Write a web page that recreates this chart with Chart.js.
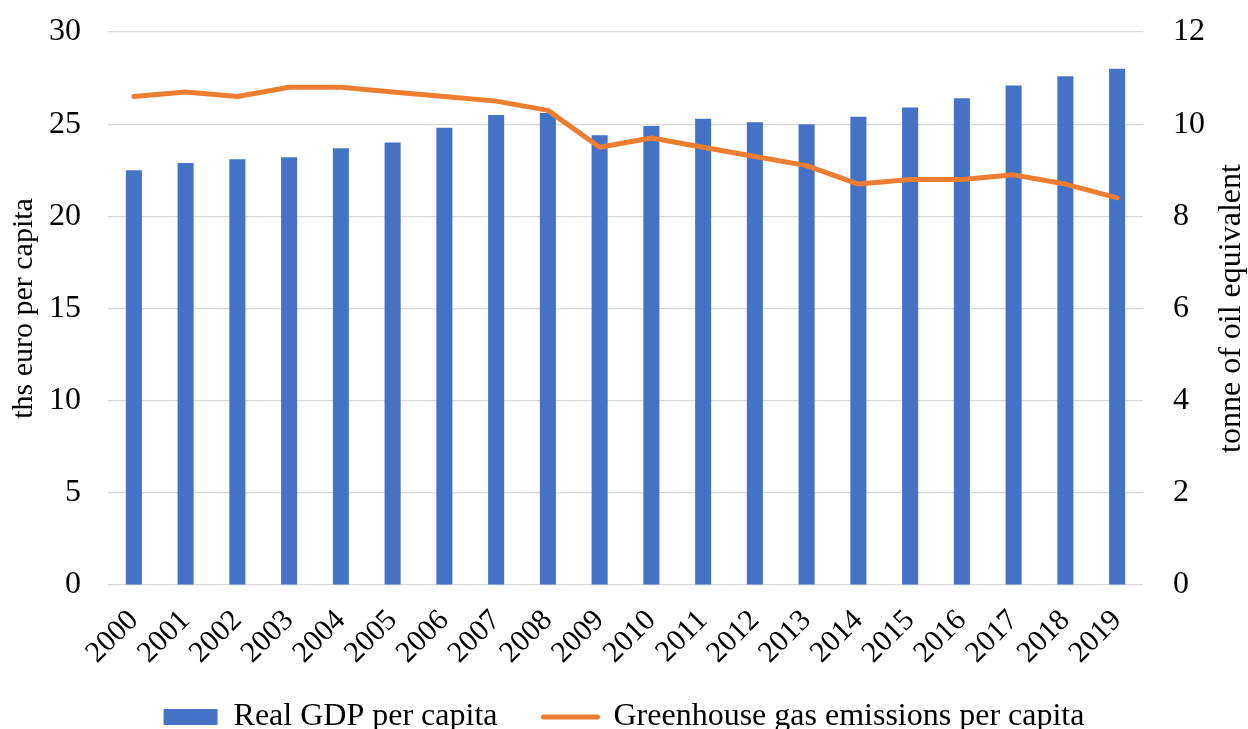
<!DOCTYPE html>
<html>
<head>
<meta charset="utf-8">
<script src="https://cdn.jsdelivr.net/npm/chart.js@4/dist/chart.umd.min.js"></script>
<style>
  html, body { margin: 0; padding: 0; background: #fff; overflow: hidden; }
  #wrap { position: relative; width: 1248px; height: 743px; }
</style>
</head>
<body>
<div id="wrap"><canvas id="chart"></canvas></div>
<script>
// Years on the category axis
const years = ['2000','2001','2002','2003','2004','2005','2006','2007','2008','2009',
               '2010','2011','2012','2013','2014','2015','2016','2017','2018','2019'];

// Real GDP per capita, thousand euro (left axis)
const gdpPerCapita = [22.5, 22.9, 23.1, 23.2, 23.7, 24.0, 24.8, 25.5, 25.6, 24.4,
                      24.9, 25.3, 25.1, 25.0, 25.4, 25.9, 26.4, 27.1, 27.6, 28.0];

// Greenhouse gas emissions per capita, tonne of oil equivalent (right axis)
const ghgPerCapita = [10.6, 10.7, 10.6, 10.8, 10.8, 10.7, 10.6, 10.5, 10.3, 9.5,
                      9.7, 9.5, 9.3, 9.1, 8.7, 8.8, 8.8, 8.9, 8.7, 8.4];

// Axis ranges and titles
const leftAxis = { min: 0, max: 30, step: 5, title: 'ths euro per capita' };
const rightAxis = { min: 0, max: 12, step: 2, title: 'tonne of oil equivalent' };
const seriesNames = ['Real GDP per capita', 'Greenhouse gas emissions per capita'];

const FONT = '"Liberation Serif", "Times New Roman", serif';
const BLUE = '#4472C4';
const ORANGE = '#ED7D31';
const GRID = '#d9d9d9';

// Right-hand axis title, written bottom-to-top like the left one
const rightTitlePlugin = {
  id: 'rightTitle',
  afterDraw(chart) {
    const { ctx, chartArea } = chart;
    ctx.save();
    ctx.translate(1232, (chartArea.top + chartArea.bottom) / 2);
    ctx.rotate(-Math.PI / 2);
    ctx.font = '32px ' + FONT;
    ctx.fillStyle = '#000';
    ctx.textAlign = 'center';
    ctx.textBaseline = 'middle';
    ctx.fillText(rightAxis.title, 0, 0);
    ctx.restore();
  }
};

// Let the slanted year labels run below the compact x-axis box without being clipped
const xLabelOverflowPlugin = {
  id: 'xLabelOverflow',
  afterLayout(chart) {
    chart.scales.x.bottom = chart.height;
  }
};

// Keep the vertical axes from reserving extra room above and below the plot
function trimVerticalPadding(scale) {
  scale.paddingTop = 0;
  scale.paddingBottom = 0;
}

new Chart(document.getElementById('chart'), {
  data: {
    labels: years,
    datasets: [
      {
        type: 'bar',
        label: seriesNames[0],
        data: gdpPerCapita,
        backgroundColor: BLUE,
        borderWidth: 0,
        yAxisID: 'y',
        barPercentage: 0.31,
        categoryPercentage: 1.0,
        order: 1
      },
      {
        type: 'line',
        label: seriesNames[1],
        data: ghgPerCapita,
        borderColor: ORANGE,
        backgroundColor: ORANGE,
        borderWidth: 5,
        borderCapStyle: 'round',
        borderJoinStyle: 'round',
        pointRadius: 0,
        pointHoverRadius: 0,
        tension: 0,
        yAxisID: 'y1',
        order: 0
      }
    ]
  },
  options: {
    responsive: true,
    maintainAspectRatio: false,
    animation: false,
    layout: { padding: { top: 32, left: 0, right: 0, bottom: 0 } },
    plugins: {
      tooltip: { enabled: false },
      legend: {
        position: 'bottom',
        labels: {
          font: { family: FONT, size: 32 },
          color: '#000',
          usePointStyle: true,
          pointStyleWidth: 54,
          boxHeight: 16,
          padding: 46,
          sort: (a, b) => a.datasetIndex - b.datasetIndex,
          generateLabels(chart) {
            const items = Chart.defaults.plugins.legend.labels.generateLabels(chart);
            items.forEach(it => {
              if (it.datasetIndex === 0) {
                it.pointStyle = 'rect';
                it.lineWidth = 0;
              } else {
                it.pointStyle = 'line';
                it.lineWidth = 5;
                it.lineCap = 'round';
              }
            });
            return items;
          }
        }
      }
    },
    scales: {
      x: {
        type: 'category',
        offset: true,
        grid: { display: false },
        border: { display: false },
        ticks: {
          autoSkip: false,
          minRotation: 45,
          maxRotation: 45,
          padding: 10,
          color: '#000',
          font: { family: FONT, size: 30 }
        },
        afterFit(scale) { scale.height = 70; }
      },
      y: {
        position: 'left',
        min: leftAxis.min,
        max: leftAxis.max,
        ticks: {
          stepSize: leftAxis.step,
          padding: 27,
          color: '#000',
          font: { family: FONT, size: 32 }
        },
        grid: { color: GRID, lineWidth: 1.2, drawTicks: false },
        border: { display: false },
        title: {
          display: true,
          text: leftAxis.title,
          color: '#000',
          font: { family: FONT, size: 30 },
          padding: { top: 6, bottom: 0 }
        },
        afterFit(scale) { scale.width = 108; trimVerticalPadding(scale); }
      },
      y1: {
        position: 'right',
        min: rightAxis.min,
        max: rightAxis.max,
        ticks: {
          stepSize: rightAxis.step,
          padding: 30,
          color: '#000',
          font: { family: FONT, size: 32 }
        },
        grid: { drawOnChartArea: false, drawTicks: false },
        border: { display: false },
        afterFit(scale) { scale.width = 105; trimVerticalPadding(scale); }
      }
    }
  },
  plugins: [rightTitlePlugin, xLabelOverflowPlugin]
});
</script>
</body>
</html>
